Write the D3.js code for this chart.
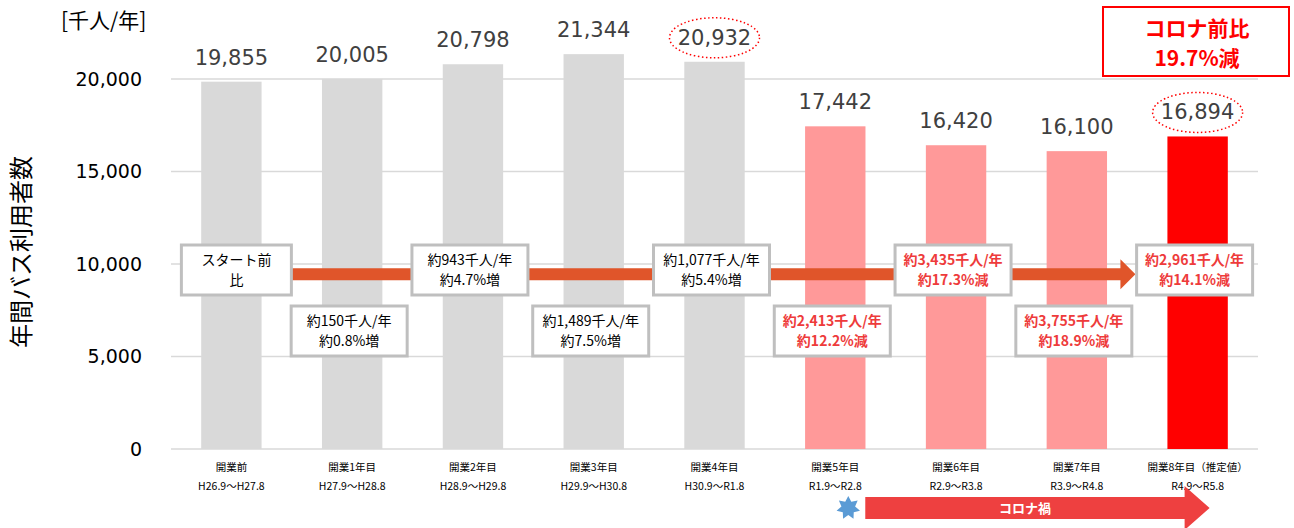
<!DOCTYPE html>
<html>
<head>
<meta charset="utf-8">
<script src="https://d3js.org/d3.v7.min.js"></script>
<style>
  body { margin: 0; background: #fff; }
  text { font-family: "DejaVu Sans", "Noto Sans CJK JP", sans-serif; }
  .jp { font-family: "Noto Sans CJK JP", sans-serif; }
</style>
</head>
<body>
<div id="chart"></div>
<script>
// data
const periods = ["開業前", "開業1年目", "開業2年目", "開業3年目", "開業4年目", "開業5年目", "開業6年目", "開業7年目", "開業8年目（推定値）"];
const ranges = ["H26.9～H27.8", "H27.9～H28.8", "H28.9～H29.8", "H29.9～H30.8", "H30.9～R1.8", "R1.9～R2.8", "R2.9～R3.8", "R3.9～R4.8", "R4.9～R5.8"];
const riders = [19855, 20005, 20798, 21344, 20932, 17442, 16420, 16100, 16894];
const barType = ["pre", "pre", "pre", "pre", "pre", "covid", "covid", "covid", "est"];
const changeLine1 = ["スタート前", "約150千人/年", "約943千人/年", "約1,489千人/年", "約1,077千人/年", "約2,413千人/年", "約3,435千人/年", "約3,755千人/年", "約2,961千人/年"];
const changeLine2 = ["比", "約0.8%増", "約4.7%増", "約7.5%増", "約5.4%増", "約12.2%減", "約17.3%減", "約18.9%減", "約14.1%減"];
const yTicks = [0, 5000, 10000, 15000, 20000];
const circled = [4, 8];

const W = 1294, H = 528;
const margin = { left: 171, right: 36, top: 79, bottom: 79 };

const svg = d3.select("#chart").append("svg")
    .attr("width", W).attr("height", H);

const x = d3.scaleBand()
    .domain(d3.range(riders.length))
    .range([margin.left, W - margin.right])
    .paddingInner(0.5).paddingOuter(0.25);

const y = d3.scaleLinear()
    .domain([0, 20000])
    .range([H - margin.bottom, margin.top]);

const color = { pre: "#d9d9d9", covid: "#ff9999", est: "#ff0000" };

// gridlines
svg.append("g")
    .selectAll("line")
    .data(yTicks)
    .enter().append("line")
    .attr("x1", margin.left).attr("x2", W - margin.right)
    .attr("y1", d => y(d)).attr("y2", d => y(d))
    .attr("stroke", "#d9d9d9").attr("stroke-width", 1.5);

// y axis labels
const yAxis = svg.append("g")
    .attr("transform", `translate(${margin.left - 29},0)`)
    .call(d3.axisLeft(y).tickValues(yTicks).tickFormat(d3.format(",")).tickSize(0).tickPadding(0));
yAxis.select(".domain").remove();
yAxis.selectAll("text")
    .style("font-family", "DejaVu Sans, sans-serif")
    .style("font-size", "19px").attr("fill", "#000");

// bars
svg.append("g")
    .selectAll("rect")
    .data(riders)
    .enter().append("rect")
    .attr("x", (d, i) => x(i))
    .attr("y", d => y(d))
    .attr("width", x.bandwidth())
    .attr("height", d => y(0) - y(d))
    .attr("fill", (d, i) => color[barType[i]]);

// value labels
svg.append("g")
    .selectAll("text")
    .data(riders)
    .enter().append("text")
    .attr("x", (d, i) => x(i) + x.bandwidth() / 2)
    .attr("y", d => y(d) - 17)
    .attr("text-anchor", "middle")
    .style("font-size", "21px")
    .attr("fill", "#404040")
    .text(d => d3.format(",")(d));

// dotted circles
svg.append("g")
    .selectAll("ellipse")
    .data(circled)
    .enter().append("ellipse")
    .attr("cx", i => x(i) + x.bandwidth() / 2)
    .attr("cy", i => y(riders[i]) - 24)
    .attr("rx", 45).attr("ry", 20)
    .attr("fill", "none")
    .attr("stroke", "#ff0000").attr("stroke-width", 1.5)
    .attr("stroke-dasharray", "1.5,2.5");

// orange trend arrow
const ay = y(9450);
const ax0 = x(0) + 60, ax1 = x(8) - 32;
svg.append("path")
    .attr("d", `M${ax0},${ay - 6}H${ax1 - 15}V${ay - 15}L${ax1},${ay}L${ax1 - 15},${ay + 15}V${ay + 6}H${ax0}Z`)
    .attr("fill", "#e0552a");

// change boxes
const boxes = svg.append("g")
    .selectAll("g")
    .data(changeLine1)
    .enter().append("g")
    .attr("transform", (d, i) => `translate(${x(i) + x.bandwidth() / 2 + (i === 0 ? 5 : -3)},${i % 2 === 0 ? 270 : 331})`);
boxes.append("rect")
    .attr("x", (d, i) => (i === 0 ? -55 : -58))
    .attr("y", -25)
    .attr("width", (d, i) => (i === 0 ? 110 : 116))
    .attr("height", 50)
    .attr("fill", "#fff")
    .attr("stroke", "#bfbfbf").attr("stroke-width", 3);
boxes.append("text")
    .attr("class", "jp")
    .attr("text-anchor", "middle")
    .attr("y", -5)
    .style("font-size", "14px")
    .style("font-weight", (d, i) => (i >= 5 ? "bold" : "normal"))
    .attr("fill", (d, i) => (i >= 5 ? "#ee3b3b" : "#000"))
    .text(d => d);
boxes.append("text")
    .attr("class", "jp")
    .attr("text-anchor", "middle")
    .attr("y", 15)
    .style("font-size", "14px")
    .style("font-weight", (d, i) => (i >= 5 ? "bold" : "normal"))
    .attr("fill", (d, i) => (i >= 5 ? "#ee3b3b" : "#000"))
    .text((d, i) => changeLine2[i]);

// x labels
const xl = svg.append("g")
    .selectAll("g")
    .data(periods)
    .enter().append("g")
    .attr("transform", (d, i) => `translate(${x(i) + x.bandwidth() / 2},0)`);
xl.append("text").attr("class", "jp")
    .attr("y", 471).attr("text-anchor", "middle")
    .style("font-size", "10.5px").attr("fill", "#000")
    .text(d => d);
xl.append("text").attr("class", "jp")
    .attr("y", 490).attr("text-anchor", "middle")
    .style("font-size", "10.5px").attr("fill", "#000")
    .text((d, i) => ranges[i]);

// unit and axis title
svg.append("text").attr("class", "jp")
    .attr("x", 61).attr("y", 28)
    .style("font-size", "21px").attr("fill", "#000")
    .text("[千人/年]");
svg.append("text").attr("class", "jp")
    .attr("transform", "translate(30,252) rotate(-90)")
    .attr("text-anchor", "middle")
    .style("font-size", "24px").attr("fill", "#000")
    .text("年間バス利用者数");

// top-right callout
svg.append("rect")
    .attr("x", 1103).attr("y", 7).attr("width", 186).attr("height", 69)
    .attr("fill", "#fff").attr("stroke", "#ff0000").attr("stroke-width", 2);
svg.append("text").attr("class", "jp")
    .attr("x", 1197).attr("y", 36).attr("text-anchor", "middle")
    .style("font-size", "21px").style("font-weight", "bold").attr("fill", "#ff0000")
    .text("コロナ前比");
svg.append("text").attr("class", "jp")
    .attr("x", 1197).attr("y", 66).attr("text-anchor", "middle")
    .style("font-size", "21px").style("font-weight", "bold").attr("fill", "#ff0000")
    .text("19.7%減");

// covid period arrow
const cx0 = x(5) + x.bandwidth() / 2 + 30, cx1 = x(8) + x.bandwidth() / 2 + 12;
const cy = 508;
svg.append("path")
    .attr("d", `M${cx0},${cy - 11}H${cx1 - 25}V${cy - 22}L${cx1},${cy}L${cx1 - 25},${cy + 22}V${cy + 11}H${cx0}Z`)
    .attr("fill", "#ee4040");
svg.append("text").attr("class", "jp")
    .attr("x", (cx0 + cx1 - 25) / 2).attr("y", cy + 5)
    .attr("text-anchor", "middle")
    .style("font-size", "13px").style("font-weight", "bold").attr("fill", "#fff")
    .text("コロナ禍");

// star
const starPts = d3.range(14).map(k => {
    const r = k % 2 === 0 ? 12 : 7;
    const a = -Math.PI / 2 + k * Math.PI / 7;
    return [cx0 - 17 + r * Math.cos(a), cy + r * Math.sin(a)];
});
svg.append("polygon")
    .attr("points", starPts.map(p => p.join(",")).join(" "))
    .attr("fill", "#5b9bd5");
</script>
</body>
</html>
